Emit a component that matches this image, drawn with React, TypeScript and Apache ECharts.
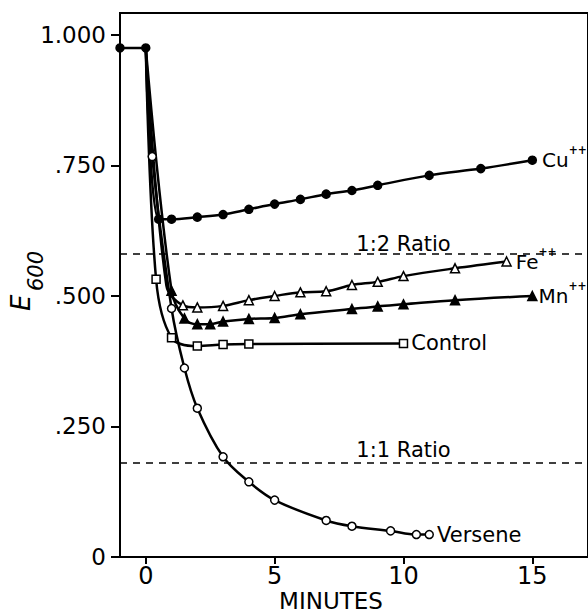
import React, { useEffect, useRef } from 'react';
import * as echarts from 'echarts';

// ---- data (time in minutes, E600) ----
const startPts: number[][] = [[-1, 0.975], [0, 0.975]];
const cuPts: number[][] = [[0, 0.975], [0.5, 0.647], [1, 0.647], [2, 0.651], [3, 0.656], [4, 0.666], [5, 0.676], [6, 0.685], [7, 0.695], [8, 0.702], [9, 0.712], [11, 0.731], [13, 0.744], [15, 0.76]];
const fePts: number[][] = [[0, 0.975], [0.8, 0.52], [1.44, 0.482], [2, 0.478], [3, 0.481], [4, 0.492], [5, 0.5], [6, 0.507], [7, 0.509], [8, 0.521], [9, 0.527], [10, 0.538], [12, 0.553], [14, 0.566]];
const feUnmarked = 2; // first points on the drawn curve without a marker
const mnPts: number[][] = [[0, 0.975], [1, 0.51], [1.5, 0.457], [2, 0.446], [2.5, 0.446], [3, 0.451], [4, 0.456], [5, 0.458], [6, 0.465], [8, 0.475], [9, 0.48], [10, 0.484], [12, 0.492], [15, 0.5]];
const controlPts: number[][] = [[0, 0.975], [0.4, 0.532], [1, 0.42], [2, 0.404], [3, 0.407], [4, 0.408], [10, 0.409]];
const versenePts: number[][] = [[0, 0.975], [0.25, 0.767], [1, 0.476], [1.5, 0.362], [2, 0.285], [3, 0.192], [4, 0.144], [5, 0.109], [7, 0.07], [8, 0.059], [9.5, 0.05], [10.5, 0.043], [11, 0.043]];

const ratioY = [0.578, 0.183];
const ratioNames = ['1:2 Ratio', '1:1 Ratio'];
const ratioLabelX = 10;

const xTicks = [0, 5, 10, 15];
const yTicks = [0, 0.25, 0.5, 0.75, 1.0];

const FONT = "'DejaVu Sans', sans-serif";

function ionLabel(el: string, dist: number, bg?: string) {
  return {
    show: true,
    position: 'right',
    distance: dist,
    offset: [0, -3],
    formatter: `{m|${el}}{s|++}`,
    backgroundColor: bg || 'transparent',
    padding: bg ? [0, 3, 0, 2] : 0,
    rich: {
      m: { fontSize: 20, fontFamily: FONT, color: '#000', verticalAlign: 'bottom' },
      s: { fontSize: 12, fontWeight: 'bold', fontFamily: "'DejaVu Sans Condensed', 'DejaVu Sans', sans-serif", color: '#000', verticalAlign: 'top', padding: [0, 0, 14, 0] },
    },
  };
}

function curve(name: string, pts: number[][], symbol: string, filled: boolean, size: number, label: any, unmarked = 1) {
  return {
    name,
    type: 'line',
    z: 3,
    smooth: 0.35,
    symbol,
    symbolSize: size,
    showAllSymbol: true,
    lineStyle: { color: '#000', width: 2.5 },
    itemStyle: { color: filled ? '#000' : '#fff', borderColor: '#000', borderWidth: 1.5 },
    data: pts.map((p, i) => {
      const item: any = { value: p };
      if (i < unmarked) item.symbol = 'none';
      if (i === pts.length - 1) item.label = label;
      return item;
    }),
  };
}

export default function App() {
  const ref = useRef<HTMLDivElement>(null);
  useEffect(() => {
    const chart = echarts.init(ref.current!, null, { renderer: 'svg' });
    const option: any = {
      animation: false,
      grid: { left: 120, top: 13, width: 474, height: 544, show: true, borderColor: '#000', borderWidth: 2, backgroundColor: 'transparent' },
      xAxis: {
        type: 'value', min: -1, max: 17.16,
        splitLine: { show: false },
        axisLine: { onZero: false, lineStyle: { color: '#000', width: 2 } },
        axisTick: { length: 7, lineStyle: { color: '#000', width: 2 }, customValues: xTicks },
        axisLabel: { customValues: xTicks, margin: 7, fontSize: 24, fontFamily: FONT, color: '#000' },
      },
      yAxis: {
        type: 'value', min: 0, max: 1.042,
        splitLine: { show: false },
        axisLine: { onZero: false, lineStyle: { color: '#000', width: 2 } },
        axisTick: { length: 9, lineStyle: { color: '#000', width: 2 }, customValues: yTicks },
        axisLabel: {
          customValues: yTicks, margin: 14, fontSize: 23, fontFamily: FONT, color: '#000',
          formatter: (v: number) => (v === 0 ? '0' : v.toFixed(3).replace(/^0/, '')),
        },
      },
      series: [
        {
          type: 'line', z: 1, data: [], silent: true,
          markLine: {
            silent: true, symbol: ['none', 'none'], label: { show: false },
            lineStyle: { color: '#000', width: 1.6, type: [7, 6] },
            data: ratioY.map((y) => ({ yAxis: y })),
          },
        },
        {
          type: 'scatter', z: 2, symbolSize: 2, itemStyle: { color: 'transparent', opacity: 1 }, silent: true,
          label: { show: true, position: 'top', distance: 0, formatter: '{b}', fontSize: 21, fontFamily: FONT, color: '#000', opacity: 1, textBorderWidth: 0 },
          data: ratioY.map((y, i) => ({ name: ratioNames[i], value: [ratioLabelX, y] })),
        },
        curve('Start', startPts, 'circle', true, 8, { show: false }, 0),
        curve('Cu', cuPts, 'circle', true, 8, ionLabel('Cu', 5)),
        curve('Fe', fePts, 'triangle', false, 9, ionLabel('Fe', 2, '#fff'), feUnmarked),
        curve('Mn', mnPts, 'triangle', true, 9, ionLabel('Mn', 1)),
        curve('Control', controlPts, 'rect', false, 8, { show: true, position: 'right', distance: 3, formatter: 'Control', fontSize: 21, fontFamily: FONT, color: '#000' }),
        curve('Versene', versenePts, 'circle', false, 8, { show: true, position: 'right', distance: 3, formatter: 'Versene', fontSize: 21, fontFamily: FONT, color: '#000' }),
      ],
      graphic: [
        {
          type: 'group', x: 21, y: 311, rotation: Math.PI / 2,
          children: [
            { type: 'text', x: 0, y: 0, style: { text: 'E', fontSize: 26, fontStyle: 'italic', fontFamily: FONT, fill: '#000', align: 'left', verticalAlign: 'middle' } },
            { type: 'text', x: 20, y: 15, style: { text: '600', fontSize: 21, fontStyle: 'italic', fontFamily: FONT, fill: '#000', align: 'left', verticalAlign: 'middle' } },
          ],
        },
        { type: 'text', x: 331, y: 601, style: { text: 'MINUTES', fontSize: 23, fontFamily: FONT, fill: '#000', align: 'center', verticalAlign: 'middle' } },
      ],
    };
    chart.setOption(option);
    return () => chart.dispose();
  }, []);
  return <div ref={ref} style={{ position: 'absolute', left: 0, top: 0, width: 588, height: 613, background: '#fff' }} />;
}
